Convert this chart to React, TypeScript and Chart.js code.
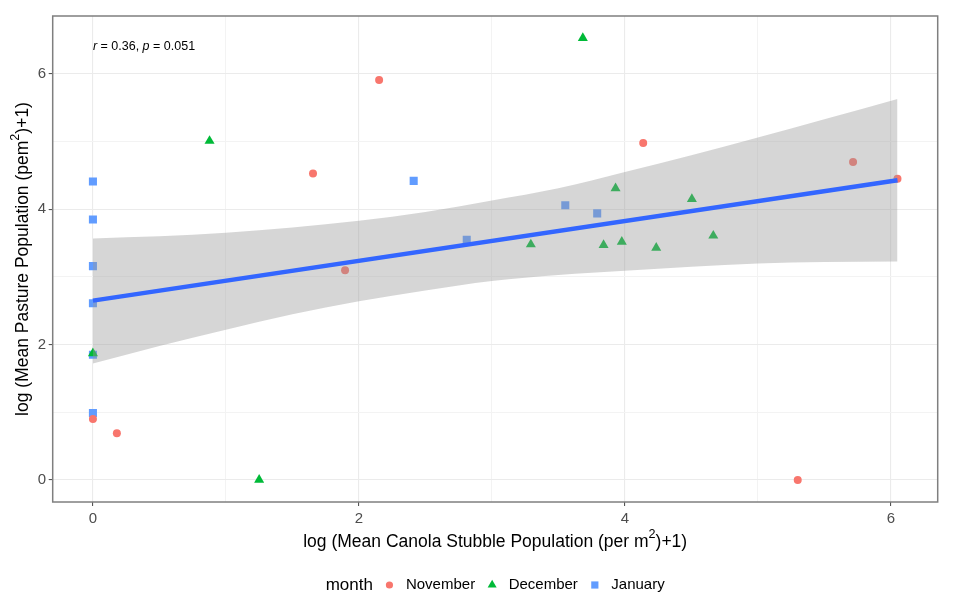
import React, { useEffect, useRef } from "react";
import { Chart, registerables } from "chart.js";

Chart.register(...registerables);

// ---- Data ----
const novX = [0, 0.18, 1.655, 1.896, 2.152, 4.138, 5.3, 5.716, 6.05];
const novY = [0.9, 0.69, 4.53, 3.1, 5.91, 4.98, 0.0, 4.7, 4.45];

const decX = [0, 0.877, 1.25, 3.293, 3.684, 3.84, 3.93, 3.977, 4.236, 4.504, 4.665];
const decY = [1.87, 5.01, 0.0, 3.48, 6.53, 3.47, 4.31, 3.52, 3.43, 4.15, 3.61];

const janX = [0, 0, 0, 0, 0, 0, 2.412, 2.811, 3.552, 3.792];
const janY = [4.41, 3.85, 3.16, 2.61, 1.85, 0.99, 4.42, 3.55, 4.06, 3.94];

const fitX = [0, 6.05];
const fitY = [2.65, 4.43];

const bandX = [0, 0.5, 1, 1.5, 2, 2.5, 3, 3.5, 4, 4.5, 5, 5.5, 6.05];
const bandHi = [3.57, 3.6, 3.655, 3.73, 3.83, 3.96, 4.13, 4.31, 4.55, 4.8, 5.06, 5.33, 5.63];
const bandLo = [1.72, 1.98, 2.22, 2.45, 2.64, 2.8, 2.94, 3.03, 3.09, 3.15, 3.2, 3.22, 3.23];

const majorTicks = [0, 2, 4, 6];
const minorTicks = [1, 3, 5];
const seriesNames = ["November", "December", "January"];
const legendTitle = "month";
const annotation = { r: "0.36", p: "0.051" };
const annotationAt = { x: 0, y: 6.41 };

const xTitleMain = "log (Mean Canola Stubble Population (per m";
const xTitleSup = "2";
const xTitleEnd = ")+1)";
const yTitleMain = "log (Mean Pasture Population (pem";
const yTitleSup = "2";
const yTitleEnd = ")+1)";

const COLORS = ["#F8766D", "#00BA38", "#619CFF"];
const FONT = '"Liberation Sans", Arial, Helvetica, sans-serif';

const zip = (xs: number[], ys: number[]) => xs.map((x, i) => ({ x, y: ys[i] }));

function drawSupTitle(ctx: CanvasRenderingContext2D, main: string, sup: string, end: string, cx: number, cy: number, size: number) {
  const supSize = size * 0.72;
  ctx.font = `${size}px ${FONT}`;
  const w1 = ctx.measureText(main).width;
  const w3 = ctx.measureText(end).width;
  ctx.font = `${supSize}px ${FONT}`;
  const w2 = ctx.measureText(sup).width;
  const total = w1 + w2 + w3;
  let x = cx - total / 2;
  ctx.textBaseline = "middle";
  ctx.textAlign = "left";
  ctx.fillStyle = "#000000";
  ctx.font = `${size}px ${FONT}`;
  ctx.fillText(main, x, cy);
  x += w1;
  ctx.font = `${supSize}px ${FONT}`;
  ctx.fillText(sup, x, cy - size * 0.4);
  x += w2;
  ctx.font = `${size}px ${FONT}`;
  ctx.fillText(end, x, cy);
}

function drawSymbol(ctx: CanvasRenderingContext2D, kind: number, x: number, y: number) {
  ctx.fillStyle = COLORS[kind];
  ctx.beginPath();
  if (kind === 0) {
    ctx.arc(x, y, 3.6, 0, Math.PI * 2);
  } else if (kind === 1) {
    const r = 5.2;
    ctx.moveTo(x, y - r);
    ctx.lineTo(x + r * 0.866, y + r / 2);
    ctx.lineTo(x - r * 0.866, y + r / 2);
    ctx.closePath();
  } else {
    ctx.rect(x - 3.6, y - 3.6, 7.2, 7.2);
  }
  ctx.fill();
}

const decorPlugin = {
  id: "decor",
  afterDraw(chart: any) {
    const { ctx, chartArea: a, scales } = chart;
    ctx.save();
    // panel border
    ctx.strokeStyle = "#7F7F7F";
    ctx.lineWidth = 1.5;
    ctx.strokeRect(a.left, a.top, a.right - a.left, a.bottom - a.top);

    // annotation
    const ax = scales.x.getPixelForValue(annotationAt.x);
    const ay = scales.y.getPixelForValue(annotationAt.y);
    const parts: [string, boolean][] = [
      ["r", true],
      [" = " + annotation.r + ", ", false],
      ["p", true],
      [" = " + annotation.p, false],
    ];
    let px = ax;
    ctx.textBaseline = "middle";
    ctx.textAlign = "left";
    ctx.fillStyle = "#000000";
    for (const [t, it] of parts) {
      ctx.font = `${it ? "italic " : ""}12.5px ${FONT}`;
      ctx.fillText(t, px, ay);
      px += ctx.measureText(t).width;
    }

    // axis titles
    const cx = (a.left + a.right) / 2;
    const cy = (a.top + a.bottom) / 2;
    drawSupTitle(ctx, xTitleMain, xTitleSup, xTitleEnd, cx, 542, 17.5);
    ctx.save();
    ctx.translate(23, cy);
    ctx.rotate(-Math.PI / 2);
    drawSupTitle(ctx, yTitleMain, yTitleSup, yTitleEnd, 0, 0, 17.5);
    ctx.restore();

    // legend
    const ly = 585;
    ctx.font = `17px ${FONT}`;
    const titleW = ctx.measureText(legendTitle).width;
    ctx.font = `15px ${FONT}`;
    const ws = seriesNames.map((n) => ctx.measureText(n).width);
    const g1 = 16.5, g2 = 16.5, g3 = 17;
    let total = titleW;
    ws.forEach((w, i) => {
      total += (i === 0 ? g1 : g3) + g2 + w;
    });
    let lx = cx - total / 2;
    ctx.fillStyle = "#000000";
    ctx.textBaseline = "middle";
    ctx.font = `17px ${FONT}`;
    ctx.fillText(legendTitle, lx, ly);
    lx += titleW;
    seriesNames.forEach((n, i) => {
      lx += i === 0 ? g1 : g3;
      drawSymbol(ctx, i, lx, ly);
      lx += g2;
      ctx.fillStyle = "#000000";
      ctx.font = `15px ${FONT}`;
      ctx.fillText(n, lx, ly);
      lx += ws[i];
    });
    ctx.restore();
  },
};

const allTicks = [...majorTicks, ...minorTicks].sort((p, q) => p - q);
const isMajor = (v: number) => majorTicks.includes(v);

function axisOpts(min: number, max: number, isX: boolean) {
  return {
    type: "linear" as const,
    min,
    max,
    afterBuildTicks: (scale: any) => {
      scale.ticks = allTicks.map((v) => ({ value: v }));
    },
    afterFit: (scale: any) => {
      if (isX) scale.height = 105;
      else scale.width = 52.7;
    },
    border: { display: false },
    grid: {
      color: (c: any) => (c.tick && isMajor(c.tick.value) ? "#EBEBEB" : "#F3F3F3"),
      lineWidth: (c: any) => (c.tick && isMajor(c.tick.value) ? 1.1 : 1),
      tickColor: (c: any) => (c.tick && isMajor(c.tick.value) ? "#555555" : "rgba(0,0,0,0)"),
      tickLength: 4,
      tickWidth: 1.1,
      drawTicks: true,
    },
    ticks: {
      autoSkip: false,
      maxRotation: 0,
      padding: isX ? 3.5 : 2.5,
      color: "#4D4D4D",
      font: { family: FONT, size: 15 },
      callback: (v: any) => (isMajor(Number(v)) ? String(v) : ""),
    },
  };
}

export default function App() {
  const ref = useRef<HTMLCanvasElement | null>(null);
  useEffect(() => {
    if (!ref.current) return;
    const chart = new Chart(ref.current, {
      type: "scatter",
      data: {
        datasets: [
          {
            type: "line",
            label: "fit",
            data: zip(fitX, fitY),
            borderColor: "#3366FF",
            borderWidth: 4.5,
            pointRadius: 0,
            fill: false,
            order: 0,
          } as any,
          {
            type: "line",
            label: "hi",
            data: zip(bandX, bandHi),
            borderColor: "rgba(0,0,0,0)",
            borderWidth: 0,
            pointRadius: 0,
            cubicInterpolationMode: "monotone",
            backgroundColor: "rgba(153,153,153,0.4)",
            fill: "+1",
            order: 1,
          } as any,
          {
            type: "line",
            label: "lo",
            data: zip(bandX, bandLo),
            borderColor: "rgba(0,0,0,0)",
            borderWidth: 0,
            pointRadius: 0,
            cubicInterpolationMode: "monotone",
            fill: false,
            order: 1,
          } as any,
          {
            label: seriesNames[0],
            data: zip(novX, novY),
            pointStyle: "circle",
            pointRadius: 4,
            borderWidth: 0,
            backgroundColor: COLORS[0],
            order: 2,
          },
          {
            label: seriesNames[1],
            data: zip(decX, decY),
            pointStyle: "triangle",
            pointRadius: 5.8,
            borderWidth: 0,
            backgroundColor: COLORS[1],
            order: 3,
          },
          {
            label: seriesNames[2],
            data: zip(janX, janY),
            pointStyle: "rect",
            pointRadius: 5.7,
            borderWidth: 0,
            backgroundColor: COLORS[2],
            order: 4,
          },
        ],
      },
      options: {
        animation: false,
        responsive: false,
        devicePixelRatio: 1,
        layout: { padding: { left: 0, right: 16.3, top: 16, bottom: 0 } },
        plugins: { legend: { display: false }, tooltip: { enabled: false } },
        events: [],
        scales: {
          x: axisOpts(-0.3025, 6.3525, true),
          y: axisOpts(-0.3265, 6.857, false),
        },
      } as any,
      plugins: [decorPlugin],
    });
    return () => chart.destroy();
  }, []);
  return (
    <div style={{ position: "absolute", left: 0, top: 0, width: 954, height: 607, background: "#ffffff" }}>
      <canvas ref={ref} width={954} height={607} style={{ display: "block" }} />
    </div>
  );
}
